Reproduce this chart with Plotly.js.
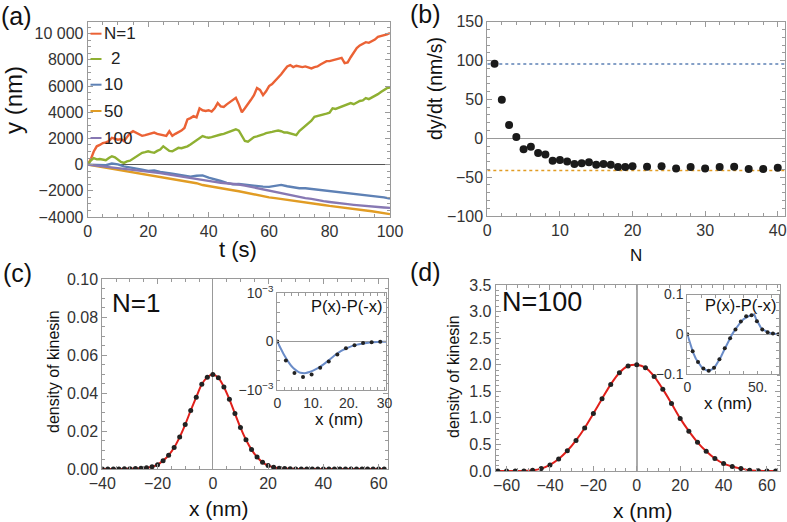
<!DOCTYPE html>
<html>
<head>
<meta charset="utf-8">
<script src="https://cdn.plot.ly/plotly-3.0.1.min.js"></script>
<style>html,body{margin:0;padding:0;background:#fff;}#chart{width:787px;height:522px;}</style>
</head>
<body>
<div id="chart"></div>
<script>
// ---------------- DATA ----------------
// (a) trajectories y(t) in nm
const tFine = [0,1,2,3,4,5,6,7,8,9,10,11,12,13,14,15,16,17,18,19,20,21,22,23,24,25,26,27,28,29,30,31,32,33,34,35,36,37,38,39,40,41,42,43,44,45,46,47,48,49,50,51,52,53,54,55,56,57,58,59,60,61,62,63,64,65,66,67,68,69,70,71,72,73,74,75,76,77,78,79,80,81,82,83,84,85,86,87,88,89,90,91,92,93,94,95,96,97,98,99,100];
const tCoarse = [0,2,4,6,8,10,12,14,16,18,20,22,24,26,28,30,32,34,36,38,40,42,44,46,48,50,52,54,56,58,60,62,64,66,68,70,72,74,76,78,80,82,84,86,88,90,92,94,96,98,100];
const yN1 = [0,400,1000,1400,1500,1650,1700,1800,2050,1950,1900,1950,1800,2100,2400,2550,2450,2300,2200,2250,2300,2400,2450,2350,2300,2250,2200,2550,2200,2350,2450,2600,2800,3450,3550,3700,3600,4300,4150,4100,4150,4050,4300,4700,4450,4400,4600,4750,4950,5100,4600,4000,4300,4600,4950,5300,5850,5700,5300,5600,6000,6150,6400,6600,6900,7200,7500,7600,7450,7550,7500,7450,7500,7400,7350,7450,7500,7650,7750,7900,7900,7950,8050,8100,8150,7750,7800,8200,8600,8900,9100,9200,9350,9300,9400,9550,9750,9800,9900,9950,10050];
const yN2 = [0,300,500,400,430,350,330,500,640,550,380,200,130,250,300,450,640,750,900,950,1020,950,900,1050,1150,1400,1200,1050,1020,1150,1280,1250,1300,1400,1540,1700,1920,2050,2180,2100,2050,2100,2180,2250,2300,2350,2430,2500,2560,2700,2600,2150,1800,1750,1950,2100,2150,2200,2300,2400,2430,2500,2560,2600,2550,2450,2450,2400,2300,2250,2560,2750,2940,3100,3350,3650,3700,3750,3840,3900,3970,4300,4250,4350,4450,4550,4650,4700,4610,4750,4860,4900,5080,5000,5120,5250,5380,5550,5700,5840,5890];
const yN10 = [0,-30,-60,-50,80,20,-130,-200,-280,-380,-480,-450,-560,-650,-690,-770,-860,-920,-850,-820,-1000,-1100,-1250,-1400,-1500,-1480,-1540,-1580,-1620,-1680,-1700,-1650,-1550,-1650,-1750,-1800,-1800,-1850,-1900,-1950,-2000,-2050,-2100,-2150,-2200,-2250,-2300,-2350,-2450,-2500,-2600];
const yN50 = [0,-80,-150,-230,-300,-380,-450,-520,-600,-680,-760,-830,-900,-990,-1060,-1140,-1220,-1300,-1420,-1560,-1650,-1720,-1800,-1880,-1960,-2030,-2130,-2230,-2330,-2430,-2500,-2560,-2620,-2680,-2740,-2790,-2850,-2920,-3000,-3080,-3150,-3200,-3260,-3320,-3380,-3430,-3500,-3560,-3640,-3710,-3780];
const yN100 = [0,-50,-100,-150,-200,-250,-300,-350,-410,-460,-510,-580,-650,-730,-810,-890,-970,-1050,-1120,-1200,-1270,-1320,-1380,-1420,-1470,-1520,-1600,-1700,-1800,-1900,-2000,-2100,-2200,-2300,-2390,-2480,-2560,-2620,-2720,-2790,-2850,-2920,-2970,-3020,-3070,-3120,-3160,-3200,-3240,-3270,-3300];
const legendLabels = ["N=1","2","10","50","100"];

// (b) drift velocity vs N
const bN = [1,2,3,4,5,6,7,8,9,10,11,12,13,14,15,16,17,18,19,20,22,24,26,28,30,32,34,36,38,40];
const bV = [96,49.5,17,1.5,-14,-11,-19,-21,-29,-28,-30,-33,-32,-31,-34,-33,-34,-37,-37,-36,-36.5,-36,-39,-37,-39,-37,-36.5,-39.5,-39.5,-38];
const bLimits = [95.5, -41.5];

// (c) N=1 density
const cX = [-40,-38,-36,-34,-32,-30,-28,-26,-24,-22,-20,-18,-16,-14,-12,-10,-8,-6,-4,-2,0,2,4,6,8,10,12,14,16,18,20,22,24,26,28,30,32,34,36,38,40,42,44,46,48,50,52,54,56,58,60,62];
const cP = [0,0,0,0,0.0001,0.0001,0.0002,0.0004,0.0007,0.0012,0.0023,0.0044,0.0072,0.0113,0.0168,0.0234,0.0308,0.0378,0.0446,0.0483,0.0497,0.0480,0.0432,0.0367,0.0292,0.0218,0.0154,0.0102,0.0063,0.0035,0.0018,0.0009,0.0004,0.0002,0.0001,0,0,0,0,0,0,0,0,0,0,0,0,0,0,0,0,0];
// (c) inset P(x)-P(-x)
const icDotX = [0,2.4,4.8,7.2,9.6,12,14.4,16.8,19.2,21.6,24,26.4,28.8];
const icDotY = [0,-0.00039,-0.00065,-0.00073,-0.00068,-0.00054,-0.00041,-0.00027,-0.00014,-0.000075,-0.00003,-0.000014,-0.000007];
const icFitX = [0,1,2,3,4,5,6,7,8,9,10,12,14,16,18,20,22,24,26,28,30,31];
const icFitY = [0,-0.00015,-0.00029,-0.00041,-0.00051,-0.00058,-0.00063,-0.00065,-0.00065,-0.00063,-0.0006,-0.00052,-0.00041,-0.00029,-0.00019,-0.00012,-0.00007,-0.00004,-0.00002,-0.00001,-0.000004,-0.000003];

// (d) N=100 density
const dX = [-64,-60,-56,-52,-48,-44,-40,-36,-32,-28,-24,-20,-16,-12,-8,-4,0,4,8,12,16,20,24,28,32,36,40,44,48,52,56,60,64];
const dP = [0,0,0,0.002,0.012,0.045,0.115,0.225,0.38,0.575,0.81,1.08,1.36,1.63,1.85,1.975,2.0,1.945,1.78,1.54,1.27,0.99,0.75,0.54,0.37,0.235,0.14,0.085,0.045,0.014,0.003,0,0];
// (d) inset P(x)-P(-x)
const idDotX = [0,3.8,7.6,11.4,15.2,19,22.8,26.6,30.4,34.2,38,41.8,45.6,49.4,53.2,57,60.8,64.6];
const idDotY = [0,-0.043,-0.07,-0.086,-0.092,-0.084,-0.063,-0.035,-0.01,0.012,0.032,0.045,0.048,0.033,0.012,0.005,0.002,0];
const idFitX = [0,2,4,6,8,10,12,14,16,18,20,22,24,26,28,30,32,34,36,38,40,42,44,46,47.5,49,50,52,54,56,58,60,62,64,65];
const idFitY = [0,-0.024,-0.045,-0.061,-0.073,-0.082,-0.088,-0.091,-0.091,-0.087,-0.08,-0.069,-0.056,-0.041,-0.026,-0.012,0.001,0.012,0.022,0.031,0.038,0.043,0.046,0.048,0.05,0.037,0.03,0.018,0.011,0.007,0.004,0.002,0.001,0,0];

// ---------------- STYLE / LAYOUT ----------------
const W = 787, H = 522;
const X = px => px / W;
const Y = py => 1 - py / H;
const FONT = 'Liberation Sans, Arial, Helvetica, sans-serif';
const FRAME = '#9a9a9a';
const COLORS = ['#EB6235', '#8FB032', '#5E81B5', '#E19C24', '#8778B3'];

function ax(extra, minorDtick) {
  const o = {
    showline: true, linecolor: FRAME, linewidth: 1, mirror: 'ticks',
    ticks: 'inside', ticklen: 5, tickcolor: FRAME, tickwidth: 1,
    showgrid: false, zeroline: false, fixedrange: true,
    tickfont: {family: FONT, size: 16, color: '#333'}
  };
  if (minorDtick) o.minor = {dtick: minorDtick, ticks: 'inside', ticklen: 3, tickcolor: FRAME, showgrid: false};
  return Object.assign(o, extra);
}

const traces = [];
// (a)
const aSeries = [[tFine, yN1], [tFine, yN2], [tCoarse, yN10], [tCoarse, yN50], [tCoarse, yN100]];
aSeries.forEach((s, i) => {
  traces.push({x: s[0], y: s[1], type: 'scatter', mode: 'lines', name: legendLabels[i],
    line: {color: COLORS[i], width: 2.4}, xaxis: 'x', yaxis: 'y', showlegend: false});
});
// (b)
bLimits.forEach((v, i) => {
  traces.push({x: [0, 41], y: [v, v], type: 'scatter', mode: 'lines',
    line: {color: i === 0 ? '#5E81B5' : '#E19C24', width: 1.6, dash: 'dot'},
    xaxis: 'x2', yaxis: 'y2', showlegend: false});
});
traces.push({x: bN, y: bV, type: 'scatter', mode: 'markers', marker: {color: '#1a1a1a', size: 8},
  xaxis: 'x2', yaxis: 'y2', showlegend: false});
// (c)
traces.push({x: cX, y: cP, type: 'scatter', mode: 'lines', line: {color: '#E0201B', width: 2, shape: 'spline', smoothing: 0.8},
  xaxis: 'x3', yaxis: 'y3', showlegend: false});
traces.push({x: cX, y: cP, type: 'scatter', mode: 'markers', marker: {color: '#222', size: 5},
  xaxis: 'x3', yaxis: 'y3', showlegend: false});
// (d)
traces.push({x: dX, y: dP, type: 'scatter', mode: 'lines', line: {color: '#E0201B', width: 2, shape: 'spline', smoothing: 0.8},
  xaxis: 'x4', yaxis: 'y4', showlegend: false});
traces.push({x: dX, y: dP, type: 'scatter', mode: 'markers', marker: {color: '#222', size: 5},
  xaxis: 'x4', yaxis: 'y4', showlegend: false});
// insets
traces.push({x: icFitX, y: icFitY, type: 'scatter', mode: 'lines', line: {color: '#6A8CC8', width: 2, shape: 'spline', smoothing: 0.6},
  xaxis: 'x5', yaxis: 'y5', showlegend: false});
traces.push({x: icDotX, y: icDotY, type: 'scatter', mode: 'markers', marker: {color: '#222', size: 4},
  xaxis: 'x5', yaxis: 'y5', showlegend: false});
traces.push({x: idFitX, y: idFitY, type: 'scatter', mode: 'lines', line: {color: '#6A8CC8', width: 2},
  xaxis: 'x6', yaxis: 'y6', showlegend: false});
traces.push({x: idDotX, y: idDotY, type: 'scatter', mode: 'markers', marker: {color: '#222', size: 4},
  xaxis: 'x6', yaxis: 'y6', showlegend: false});

const insetFont = {family: FONT, size: 14, color: '#333'};

const layout = {
  width: W, height: H,
  margin: {l: 0, r: 0, t: 0, b: 0},
  paper_bgcolor: '#fff', plot_bgcolor: '#fff',
  showlegend: false,
  font: {family: FONT, color: '#222'},
  // (a)
  xaxis: ax({domain: [X(87.7), X(390)], range: [0, 100], dtick: 20, anchor: 'y'}, 5),
  yaxis: ax({domain: [Y(217), Y(22)], range: [-4000, 10890], anchor: 'x',
    tickvals: [-4000,-2000,0,2000,4000,6000,8000,10000],
    ticktext: ['\u22124000','\u22122000','0','2000','4000','6000','8000','10\u00a0000'],
    zeroline: true, zerolinecolor: '#555', zerolinewidth: 1}, 500),
  // (b)
  xaxis2: ax({domain: [X(487.3), X(785)], range: [0, 41], dtick: 10, anchor: 'y2'}, 2),
  yaxis2: ax({domain: [Y(216), Y(21.7)], range: [-100, 150], dtick: 50, anchor: 'x2',
    zeroline: true, zerolinecolor: '#999', zerolinewidth: 1}, 10),
  // (c)
  xaxis3: ax({domain: [X(102.3), X(388.3)], range: [-40, 63.5], dtick: 20, anchor: 'y3',
    zeroline: true, zerolinecolor: '#999', zerolinewidth: 1}, 5),
  yaxis3: ax({domain: [Y(469), Y(279)], range: [0, 0.1], dtick: 0.02, tickformat: '.2f', anchor: 'x3'}, 0.005),
  // (d)
  xaxis4: ax({domain: [X(495.7), X(780)], range: [-65, 66], dtick: 20, anchor: 'y4',
    zeroline: true, zerolinecolor: '#aaa', zerolinewidth: 1.5}, 5),
  yaxis4: ax({domain: [Y(471), Y(285)], range: [0, 3.5], dtick: 0.5, tickformat: '.1f', anchor: 'x4'}, 0.1),
  // inset c
  xaxis5: ax({domain: [X(277.3), X(386.3)], range: [0, 30.5], anchor: 'y5', tickvals: [0,10,20,30], ticktext: ['0','10.','20.','30'],
    tickfont: insetFont, ticklen: 3}, 2),
  yaxis5: ax({domain: [Y(390), Y(293)], range: [-0.001, 0.001], anchor: 'x5', tickvals: [-0.001, 0, 0.001],
    ticktext: ['\u221210<sup>\u22123</sup>', '0', '10<sup>\u22123</sup>'], tickfont: insetFont, ticklen: 3,
    zeroline: true, zerolinecolor: '#999', zerolinewidth: 1}, 0.0002),
  // inset d
  xaxis6: ax({domain: [X(687.3), X(779.3)], range: [0, 65.3], anchor: 'y6', tickvals: [0, 50], ticktext: ['0', '50.'],
    tickfont: insetFont, ticklen: 3}, 10),
  yaxis6: ax({domain: [Y(374), Y(294.5)], range: [-0.1, 0.1], anchor: 'x6', tickvals: [-0.1, 0, 0.1],
    ticktext: ['\u22120.1', '0', '0.1'], tickfont: insetFont, ticklen: 3,
    zeroline: true, zerolinecolor: '#999', zerolinewidth: 1}, 0.02),
  annotations: [],
  shapes: []
};

function note(text, px, py, size, opts) {
  layout.annotations.push(Object.assign({
    text: text, xref: 'paper', yref: 'paper', x: X(px), y: Y(py),
    xanchor: 'center', yanchor: 'middle', showarrow: false,
    font: {family: FONT, size: size, color: '#111'}
  }, opts || {}));
}

// panel labels
note('(a)', 16, 16, 25);
note('(b)', 425, 14, 25);
note('(c)', 17, 273, 25);
note('(d)', 425, 272, 25);
// axis titles
note('y (nm)', 13, 100, 24, {textangle: -90});
note('t (s)', 238, 249, 22);
note('dy/dt (nm/s)', 435, 89, 19.5, {textangle: -90});
note('N', 636, 255, 17);
note('density of kinesin', 53, 371, 16, {textangle: -90});
note('density of kinesin', 453, 377, 16, {textangle: -90});
note('x (nm)', 219, 508, 21);
note('x (nm)', 643, 510, 21);
note('x (nm)', 338.5, 419, 17);
note('x (nm)', 727.5, 403, 17);
// in-plot labels
note('N=1', 110, 303, 26, {xanchor: 'left'});
note('N=100', 500, 302, 27, {xanchor: 'left'});
note('P(x)-P(-x)', 383.5, 306, 16.5, {xanchor: 'right'});
note('P(x)-P(-x)', 778, 305, 16.5, {xanchor: 'right'});

// legend for (a)
const legRows = [33.7, 59, 84.7, 111, 138];
const legTextX = [102, 109, 102, 102, 102];
legendLabels.forEach((lab, i) => {
  layout.shapes.push({type: 'line', xref: 'paper', yref: 'paper', x0: X(90.5), x1: X(101.5), y0: Y(legRows[i]), y1: Y(legRows[i]),
    line: {color: COLORS[i], width: 2}});
  note(lab, legTextX[i], legRows[i], 17, {xanchor: 'left', font: {family: FONT, size: 17, color: '#222'}});
});

Plotly.newPlot('chart', traces, layout, {staticPlot: true, displayModeBar: false});
</script>
</body>
</html>
